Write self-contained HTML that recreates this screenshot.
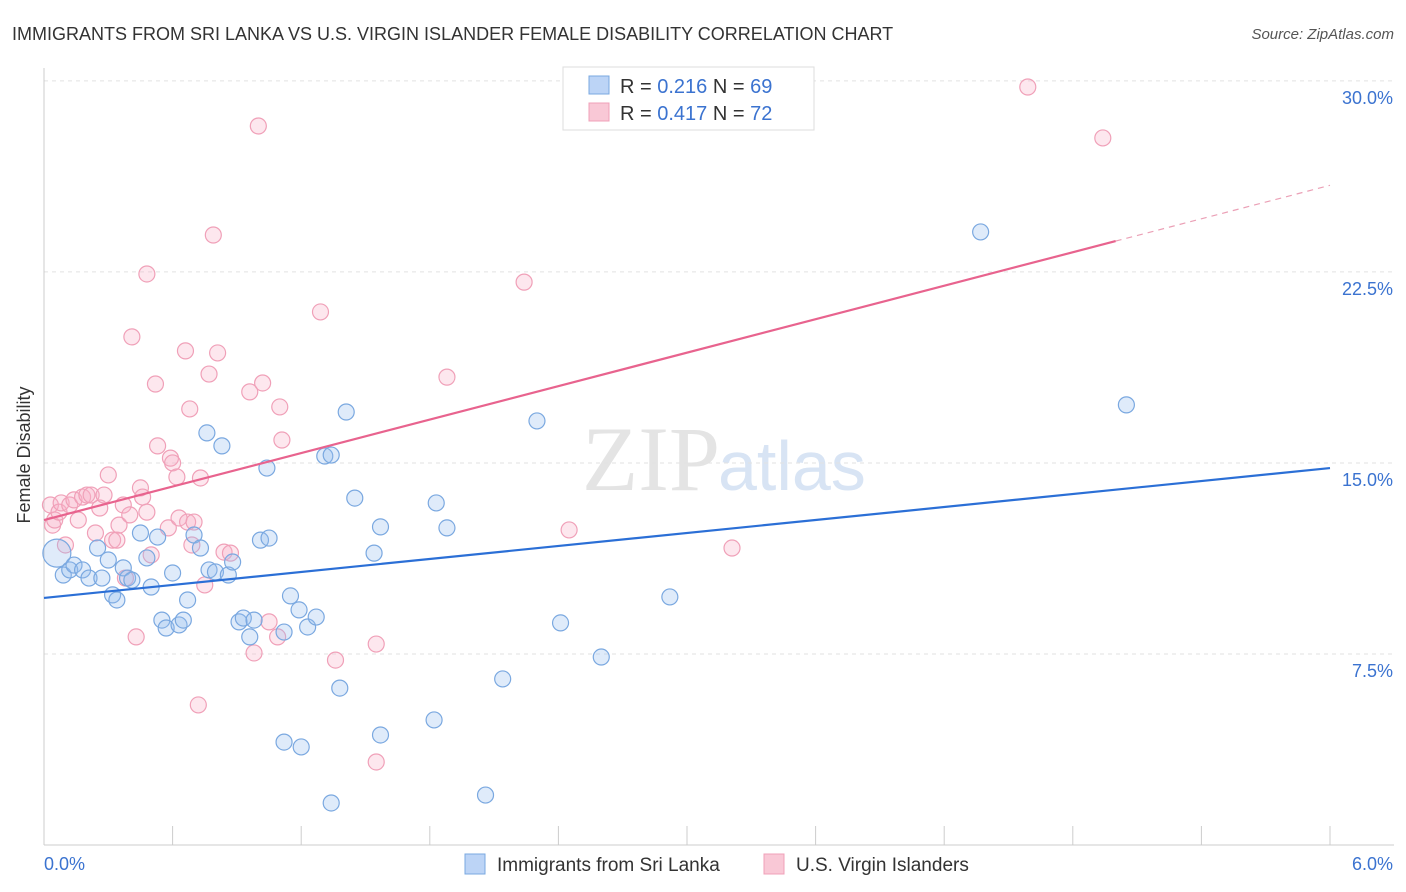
<!DOCTYPE html>
<html><head><meta charset="utf-8"><style>
body{margin:0;background:#fff;font-family:"Liberation Sans",sans-serif;}
svg{display:block}
</style></head><body>
<svg id="chart" width="1406" height="892" viewBox="0 0 1406 892" xmlns="http://www.w3.org/2000/svg">
<text x="12" y="40" font-size="18" fill="#333">IMMIGRANTS FROM SRI LANKA VS U.S. VIRGIN ISLANDER FEMALE DISABILITY CORRELATION CHART</text>
<text x="1394" y="39" font-size="15" fill="#555" font-style="italic" text-anchor="end">Source: ZipAtlas.com</text>
<text x="720" y="490" font-size="92" fill="#e4e4e4" text-anchor="end" font-family="Liberation Serif,serif">ZIP</text>
<text x="718" y="490" font-size="70" fill="#d8e4f4">atlas</text>
<g id="grid"></g>
<g id="axes"></g>
<g id="pts"></g>
<g id="lines"></g>
<text x="30" y="455" font-size="18" fill="#333" text-anchor="middle" transform="rotate(-90 30 455)">Female Disability</text>
<g>
<rect x="563" y="67" width="251" height="63" fill="#fff" stroke="#ddd"/>
<rect x="589" y="76" width="20" height="18" fill="#bcd4f6" stroke="#7aa8e0"/>
<text x="620" y="93" font-size="20" fill="#333">R = <tspan fill="#3b73d0">0.216</tspan>   N = <tspan fill="#3b73d0">69</tspan></text>
<rect x="589" y="103" width="20" height="18" fill="#f9c8d6" stroke="#f0a0b8"/>
<text x="620" y="120" font-size="20" fill="#333">R = <tspan fill="#3b73d0">0.417</tspan>   N = <tspan fill="#3b73d0">72</tspan></text>
</g>
<g>
<rect x="465" y="854" width="20" height="20" fill="#bcd4f6" stroke="#7aa8e0"/>
<text x="497" y="871" font-size="19" fill="#333">Immigrants from Sri Lanka</text>
<rect x="764" y="854" width="20" height="20" fill="#f9c8d6" stroke="#f0a0b8"/>
<text x="796" y="871" font-size="19" fill="#333">U.S. Virgin Islanders</text>
</g>
</svg>
<script>
const blueX=[0.06,0.09,0.12,0.14,0.18,0.21,0.25,0.27,0.30,0.32,0.34,0.37,0.39,0.41,0.45,0.48,0.50,0.53,0.55,0.57,0.60,0.63,0.65,0.67,0.70,0.73,0.76,0.77,0.80,0.83,0.86,0.88,0.91,0.93,0.96,0.98,1.01,1.04,1.05,1.12,1.12,1.15,1.19,1.20,1.23,1.27,1.31,1.34,1.34,1.38,1.41,1.45,1.54,1.57,1.57,1.82,1.83,1.88,2.06,2.14,2.30,2.41,2.60,2.92,4.37,5.05];
const blueY=[11.46,10.60,10.80,10.99,10.80,10.48,11.66,10.48,11.19,9.82,9.62,10.88,10.48,10.40,12.25,11.27,10.13,12.09,8.83,8.52,10.68,8.64,8.83,9.62,12.17,11.66,16.18,10.80,10.72,15.67,10.60,11.11,8.76,8.91,8.17,8.83,11.97,14.80,12.05,4.04,8.36,9.78,9.23,3.85,8.56,8.95,15.27,15.31,1.65,6.16,17.00,13.62,11.46,12.49,4.32,4.91,13.43,12.45,1.96,6.52,16.65,8.72,7.38,9.74,24.07,17.28];
const pinkX=[0.03,0.04,0.05,0.07,0.08,0.10,0.12,0.14,0.16,0.18,0.20,0.22,0.24,0.26,0.28,0.30,0.32,0.34,0.35,0.37,0.38,0.40,0.41,0.43,0.45,0.46,0.48,0.48,0.50,0.52,0.53,0.58,0.59,0.60,0.62,0.63,0.66,0.67,0.68,0.69,0.70,0.72,0.73,0.75,0.77,0.79,0.81,0.84,0.87,0.96,0.98,1.00,1.02,1.05,1.09,1.10,1.11,1.29,1.36,1.55,1.55,1.88,2.24,2.45,3.21,4.59,4.94];
const pinkY=[13.35,12.56,12.76,13.07,13.43,11.78,13.35,13.55,12.76,13.66,13.74,13.74,12.25,13.23,13.74,14.53,11.97,11.97,12.56,13.35,10.48,12.96,19.95,8.17,14.02,13.66,13.07,22.42,11.39,18.10,15.67,12.45,15.19,15.00,14.45,12.84,19.40,12.68,17.12,11.78,12.68,5.50,14.41,10.21,18.49,23.95,19.32,11.50,11.46,17.79,7.54,28.23,18.14,8.76,8.17,17.20,15.90,20.93,7.26,7.89,3.26,18.37,22.10,12.37,11.66,29.76,27.76];
const blueTrend=[9.70,14.80];
const pinkTrend=[12.76,25.90];
const pinkSolidEnd=5.0;
const yTicks=[7.5,15.0,22.5,30.0];
const yTickLabels=["7.5%","15.0%","22.5%","30.0%"];
const xTicks=[0,0.6,1.2,1.8,2.4,3.0,3.6,4.2,4.8,5.4,6.0];
const NS="http://www.w3.org/2000/svg";
const sx=v=>44+v*(1286/6);
const sy=v=>845-v*25.47;
function mk(tag,attrs,parent){const e=document.createElementNS(NS,tag);for(const k in attrs)e.setAttribute(k,attrs[k]);parent.appendChild(e);return e;}
const grid=document.getElementById('grid'),axes=document.getElementById('axes'),pts=document.getElementById('pts'),lines=document.getElementById('lines');
yTicks.forEach((t,i)=>{
 const l=mk('line',{x1:44,x2:1394,y1:sy(t),y2:sy(t),stroke:'#e2e2e2','stroke-dasharray':'4,4'},grid);
 
 
 const tx=mk('text',{x:1393,y:sy(t)+23,'font-size':18,fill:'#3b73d0','text-anchor':'end'},axes);
 tx.textContent=yTickLabels[i];
 
 
});
const ax=mk('line',{x1:44,x2:1394,y1:845,y2:845,stroke:'#ccc'},axes);


const ay=mk('line',{x1:44,x2:44,y1:68,y2:845,stroke:'#ccc'},axes);


xTicks.forEach(t=>{
 const l=mk('line',{x1:sx(t),x2:sx(t),y1:826,y2:845,stroke:'#ccc'},axes);
 
 
});
const xl0=mk('text',{x:44,y:870,'font-size':18,fill:'#3b73d0'},axes);xl0.textContent='0.0%';


const xl1=mk('text',{x:1393,y:870,'font-size':18,fill:'#3b73d0','text-anchor':'end'},axes);xl1.textContent='6.0%';


pinkX.forEach((x,i)=>{
 const c=mk('circle',{cx:sx(x),cy:sy(pinkY[i]),r:8,fill:'rgba(248,175,198,0.3)',stroke:'#f0a0b8','stroke-width':1.2},pts);
 
 
});
blueX.forEach((x,i)=>{
 const c=mk('circle',{cx:sx(x),cy:sy(blueY[i]),r:i===0?14:8,fill:'rgba(150,190,240,0.3)',stroke:'#7aa8e0','stroke-width':1.2},pts);
 
 
});
const bl=mk('line',{x1:sx(0),y1:sy(blueTrend[0]),x2:sx(6),y2:sy(blueTrend[1]),stroke:'#2b6fd6','stroke-width':2.2},lines);


const pm=(pinkTrend[1]-pinkTrend[0])/6;
const pl=mk('line',{x1:sx(0),y1:sy(pinkTrend[0]),x2:sx(pinkSolidEnd),y2:sy(pinkTrend[0]+pm*pinkSolidEnd),stroke:'#e8638e','stroke-width':2.2},lines);


const pd=mk('line',{x1:sx(pinkSolidEnd),y1:sy(pinkTrend[0]+pm*pinkSolidEnd),x2:sx(6),y2:sy(pinkTrend[1]),stroke:'#eba0b6','stroke-width':1.2,'stroke-dasharray':'6,5'},lines);


</script>
</body></html>
